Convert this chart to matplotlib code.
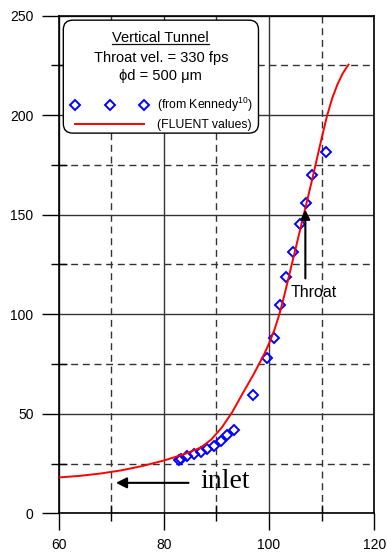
import numpy as np
import matplotlib
matplotlib.use("Agg")
import matplotlib.pyplot as plt
from matplotlib.lines import Line2D
from matplotlib.patches import FancyBboxPatch

plt.rcParams['font.family'] = ['Liberation Sans', 'DejaVu Sans']
plt.rcParams['mathtext.fontset'] = 'custom'
plt.rcParams['mathtext.rm'] = 'Liberation Sans'
plt.rcParams['mathtext.it'] = 'Liberation Sans:italic'

# ---- data ----
kennedy_x = [82.9, 83.3, 84.4, 85.8, 87.1, 88.3, 89.5, 90.8, 92.0, 93.3, 97.0,
             99.6, 100.9, 102.1, 103.2, 104.5, 105.8, 107.1, 108.25, 110.9]
kennedy_y = [26.6, 27.5, 28.7, 30.0, 31.0, 32.2, 33.8, 36.2, 39.2, 42.1, 59.4,
             77.8, 88.2, 104.4, 118.5, 131.3, 145.1, 156.1, 170.1, 181.7]

fluent_x = [60, 64, 68, 72, 76, 80, 84, 87, 89, 91, 93, 95, 97, 98, 99, 100,
            101, 102, 103, 104, 105, 106, 107, 108, 109, 110, 111, 112, 113, 114, 115.1]
fluent_y = [18.0, 18.8, 20.0, 21.6, 23.8, 26.5, 29.8, 33.0, 37.0, 43.0, 50.8, 60.3,
            69.5, 74.5, 79.6, 85.3, 92.0, 100.3, 110.5, 121.5, 132.5, 143.5, 154.5,
            165.5, 177.0, 188.5, 199.5, 208.5, 215.5, 221.0, 225.4]

x_ticks = [60, 80, 100, 120]
y_ticks = [0, 50, 100, 150, 200, 250]
x_minor = [70, 90, 110]
y_minor = [25, 75, 125, 175, 225]

title_lines = ["Vertical Tunnel", "Throat vel. = 330 fps", "ϕd = 500 μm"]
series_labels = [r"(from Kennedy$^{\mathregular{10}}$)", "(FLUENT values)"]

# ---- figure ----
fig = plt.figure(figsize=(3.87, 5.58), dpi=100)
ax = fig.add_axes([0.1512, 0.0801, 0.816, 0.8918])
ax.set_xlim(60, 120)
ax.set_ylim(0, 250)
ax.set_xticks(x_ticks)
ax.set_yticks(y_ticks)
ax.set_xticks(x_minor, minor=True)
ax.set_yticks(y_minor, minor=True)

ax.grid(which='major', color='#333333', lw=1.0, ls='-', zorder=0)
ax.grid(which='minor', color='#333333', lw=1.0, ls=(0, (5, 3.4)), zorder=0)
ax.set_axisbelow(True)
for s in ax.spines.values():
    s.set_color('black')
    s.set_linewidth(1.2)

ax.tick_params(which='major', direction='out', length=12, width=1.0, color='black',
               labelsize=10, pad=6)
ax.tick_params(which='minor', direction='inout', length=12, width=1.0, color='black')

ax.plot(kennedy_x, kennedy_y, ls='none', marker='D', ms=4.8, mfc='none',
        mec='#0000ff', mew=1.4, zorder=3)
ax.plot(fluent_x, fluent_y, color='#ff0000', lw=1.4, zorder=4)

# annotations
ax.annotate('', xy=(106.9, 152.5), xytext=(106.9, 118),
            arrowprops=dict(arrowstyle='-|>', color='black', lw=1.5,
                            mutation_scale=14, shrinkA=0, shrinkB=0), zorder=5)
ax.text(108.4, 111.0, "Throat", ha='center', va='center', fontsize=11.5, zorder=5)

ax.annotate('', xy=(70.9, 15.3), xytext=(84.7, 15.3),
            arrowprops=dict(arrowstyle='-|>', color='black', lw=1.5,
                            mutation_scale=16, shrinkA=0, shrinkB=0), zorder=5)
ax.text(86.9, 12.9, "inlet", ha='left', va='baseline', fontsize=20,
        family='Liberation Serif', zorder=5)

# legend box
box = FancyBboxPatch((0.0152, 0.764), 0.618, 0.227, transform=ax.transAxes,
                     boxstyle='round,pad=0,rounding_size=0.03', fc='white',
                     ec='black', lw=1.0, zorder=6, mutation_aspect=316/498)
ax.add_patch(box)
ty = [0.9546, 0.9156, 0.8791]
txts = []
for t, y in zip(title_lines, ty):
    txts.append(ax.text(0.324, y, t, transform=ax.transAxes, ha='center', va='center',
                        fontsize=10.5, zorder=7))

handles = [Line2D([], [], ls='none', marker='D', ms=4.8, mfc='none', mec='#0000ff', mew=1.4),
           Line2D([], [], color='#ff0000', lw=1.4)]
leg = ax.legend(handles, series_labels, loc='upper left', bbox_to_anchor=(0.0405, 0.838),
                numpoints=3, handlelength=6.28, handletextpad=0.71, labelspacing=0.4,
                fontsize=8.8, frameon=False, borderpad=0, borderaxespad=0)
leg.set_zorder(8)

# underline title
fig.canvas.draw()
r = fig.canvas.get_renderer()
bb = txts[0].get_window_extent(r)
yline = bb.y0 + 1.0
fig.add_artist(Line2D([bb.x0 / 387, bb.x1 / 387], [yline / 558, yline / 558],
                      color='#111111', lw=0.9, zorder=9))

fig.savefig('out.png', dpi=100)
